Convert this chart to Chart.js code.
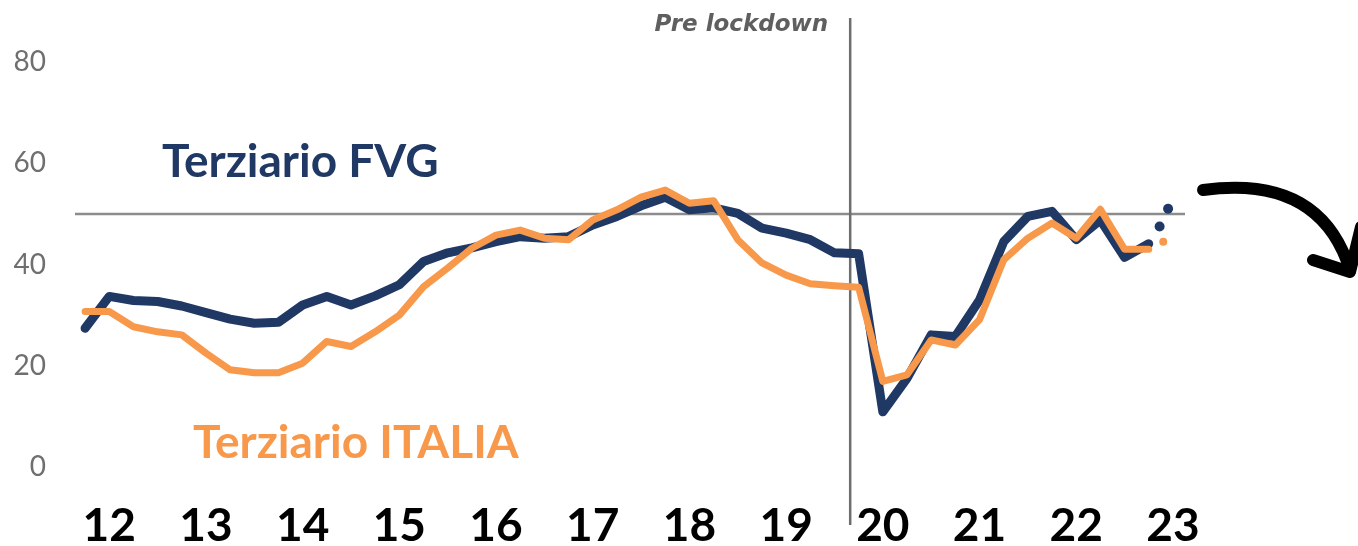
<!DOCTYPE html>
<html>
<head>
<meta charset="utf-8">
<script src="https://cdn.jsdelivr.net/npm/chart.js@4"></script>
<style>
  html, body { margin: 0; padding: 0; background: #fff; }
  #wrap { width: 1358px; height: 546px; position: relative; }
</style>
</head>
<body>
<div id="wrap"><canvas id="chart"></canvas></div>
<script>
// years on the x axis (one label per year, quarterly data)
const years = ["12", "13", "14", "15", "16", "17", "18", "19", "20", "21", "22", "23"];

// quarterly values, 2012 Q1 -> 2023 Q1
const fvg = [
  27.4, 33.7, 32.9, 32.7, 31.8, 30.5, 29.2, 28.4, 28.6, 32.0, 33.7, 32.0,
  33.8, 36.0, 40.6, 42.3, 43.3, 44.5, 45.5, 45.2, 45.5, 47.8, 49.5, 51.6,
  53.3, 50.8, 51.2, 50.1, 47.2, 46.2, 44.9, 42.3, 42.1, 10.9, 17.5, 26.1,
  25.8, 33.0, 44.5, 49.5, 50.5, 44.9, 48.8, 41.4, 44.1
];
const italia = [
  30.7, 30.7, 27.7, 26.7, 26.1, 22.5, 19.2, 18.6, 18.6, 20.5, 24.8, 23.8,
  26.7, 30.0, 35.6, 39.3, 43.2, 45.8, 46.8, 45.2, 44.9, 48.8, 50.8, 53.3,
  54.7, 52.1, 52.6, 44.9, 40.3, 37.9, 36.2, 35.8, 35.5, 16.9, 18.2, 25.1,
  24.1, 29.1, 40.9, 45.2, 48.2, 45.2, 50.9, 43.0, 43.0
];

// forecast dots after the last quarter (q = quarter index)
const fvgForecast = [{ q: 44.45, v: 47.5 }, { q: 44.8, v: 51.0 }];
const italiaForecast = [{ q: 44.6, v: 44.5 }];

const threshold = 50;
const lockdownQ = 31.65;

const NAVY = "#203864";
const ORANGE = "#F7984A";

const toXY = arr => arr.map((v, i) => ({ x: i, y: v }));
const fcXY = arr => arr.map(p => ({ x: p.q, y: p.v }));

const decor = {
  id: "decor",
  beforeDatasetsDraw(chart) {
    const { ctx, chartArea: a, scales: { x, y } } = chart;
    ctx.save();
    // 50 line
    ctx.strokeStyle = "#8c8c8c";
    ctx.lineWidth = 2.5;
    ctx.beginPath();
    ctx.moveTo(a.left + 2, y.getPixelForValue(threshold));
    ctx.lineTo(a.right, y.getPixelForValue(threshold));
    ctx.stroke();
    // lockdown line
    const lx = x.getPixelForValue(lockdownQ);
    ctx.strokeStyle = "#6e6e6e";
    ctx.lineWidth = 2.5;
    ctx.beginPath();
    ctx.moveTo(lx, a.top - 44);
    ctx.lineTo(lx, a.bottom + 58);
    ctx.stroke();
    ctx.restore();
  },
  afterDraw(chart) {
    const { ctx, chartArea: a, scales: { x, y } } = chart;
    ctx.save();
    const lx = x.getPixelForValue(lockdownQ);
    ctx.fillStyle = "#5f5f5f";
    ctx.font = "italic bold 23px 'DejaVu Sans'";
    ctx.textAlign = "right";
    ctx.textBaseline = "middle";
    ctx.fillText("Pre lockdown", lx - 22, a.top - 37);

    ctx.textAlign = "center";
    ctx.font = "bold 46px Lato";
    ctx.fillStyle = NAVY;
    ctx.fillText("Terziario FVG", x.getPixelForValue(8.9), y.getPixelForValue(60.2));
    ctx.fillStyle = ORANGE;
    ctx.fillText("Terziario ITALIA", x.getPixelForValue(11.2), y.getPixelForValue(4.8));

    // curved arrow on the right
    const r = a.right;
    ctx.strokeStyle = "#000";
    ctx.lineWidth = 12;
    ctx.lineCap = "round";
    ctx.lineJoin = "round";
    ctx.beginPath();
    ctx.moveTo(r + 18, a.top + 128);
    ctx.quadraticCurveTo(r + 135, a.top + 112, r + 165, a.top + 208);
    ctx.stroke();
    ctx.beginPath();
    ctx.moveTo(r + 128, a.top + 198);
    ctx.lineTo(r + 165, a.top + 210);
    ctx.lineTo(r + 176, a.top + 165);
    ctx.stroke();
    ctx.restore();
  }
};

new Chart(document.getElementById("chart"), {
  type: "line",
  data: {
    datasets: [
      {
        label: "Terziario FVG",
        data: toXY(fvg),
        borderColor: NAVY,
        borderWidth: 9,
        pointRadius: 0,
        borderCapStyle: "round",
        borderJoinStyle: "round",
        order: 2
      },
      {
        label: "Terziario ITALIA",
        data: toXY(italia),
        borderColor: ORANGE,
        borderWidth: 7,
        pointRadius: 0,
        borderCapStyle: "round",
        borderJoinStyle: "round",
        order: 1
      },
      {
        label: "FVG previsione",
        data: fcXY(fvgForecast),
        showLine: false,
        pointRadius: 5,
        pointBorderWidth: 0,
        pointBackgroundColor: NAVY,
        order: 0
      },
      {
        label: "ITALIA previsione",
        data: fcXY(italiaForecast),
        showLine: false,
        pointRadius: 4,
        pointBorderWidth: 0,
        pointBackgroundColor: ORANGE,
        order: 0
      }
    ]
  },
  options: {
    responsive: true,
    maintainAspectRatio: false,
    animation: false,
    layout: { padding: { top: 62, right: 173, bottom: 0, left: 0 } },
    plugins: { legend: { display: false }, tooltip: { enabled: false } },
    scales: {
      x: {
        type: "linear",
        min: -0.5,
        max: 45.5,
        grid: { display: false },
        border: { display: false },
        afterBuildTicks: axis => { axis.ticks = years.map((_, k) => ({ value: 1 + 4 * k })); },
        afterFit: axis => { axis.height = 79; },
        ticks: {
          autoSkip: false,
          maxRotation: 0,
          padding: 24,
          color: "#000",
          font: { family: "Lato", weight: "bold", size: 46 },
          callback: v => years[(v - 1) / 4]
        }
      },
      y: {
        min: 0,
        max: 80,
        grid: { display: false },
        border: { display: false },
        afterFit: axis => { axis.width = 73; },
        ticks: {
          stepSize: 20,
          padding: 19,
          color: "#6f6f6f",
          font: { family: "Lato", size: 28, weight: "normal" }
        }
      }
    }
  },
  plugins: [decor]
});
</script>
</body>
</html>
